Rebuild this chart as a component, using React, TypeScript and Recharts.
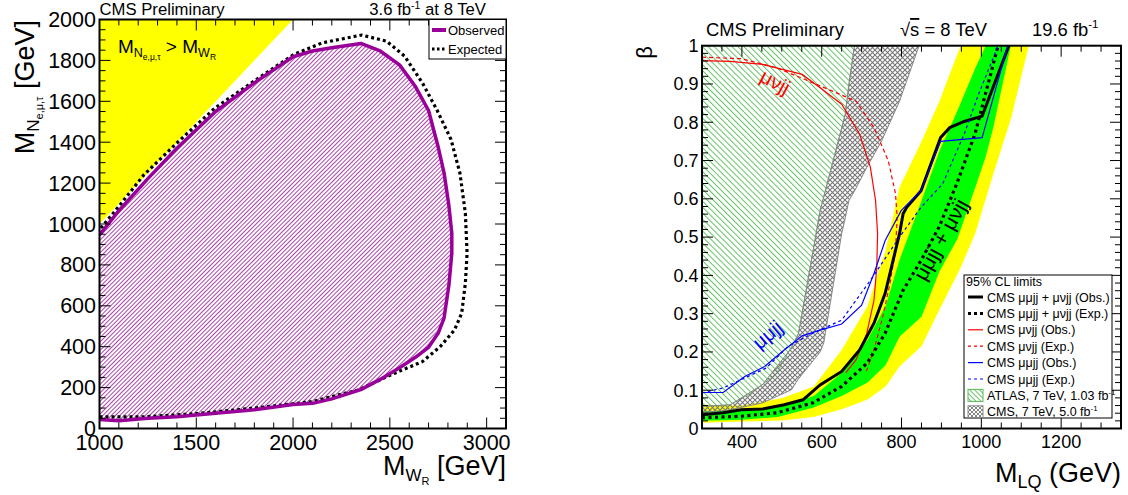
import React from "react";
import { ComposedChart, Area, Line, XAxis, YAxis } from "recharts";

const FONT = "'Liberation Sans', Arial, Helvetica, sans-serif";

// ---------- left panel: M_WR vs M_N exclusion ----------
const L_X_MAJOR = [1000, 1500, 2000, 2500, 3000];
const L_Y_MAJOR = [0, 200, 400, 600, 800, 1000, 1200, 1400, 1600, 1800, 2000];

// M_N > M_WR forbidden triangle
const TRI_X = [1000, 2000];
const TRI_LO = [1000, 2000];
const TRI_HI = [2000, 2000];

// observed excluded region (lower / upper edge at the same M_WR)
const OBS_X = [1000, 1100, 1250, 1400, 1600, 1800, 2000, 2100, 2200, 2350, 2450, 2550, 2630, 2700, 2750, 2780, 2805, 2820];
const OBS_HI = [947, 1065, 1222, 1370, 1550, 1690, 1818, 1846, 1862, 1883, 1846, 1778, 1675, 1555, 1375, 1250, 1090, 955];
const OBS_LO = [44, 38, 50, 58, 75, 92, 117, 123, 145, 190, 240, 297, 347, 397, 467, 540, 700, 857];

// expected contour (closed)
const EXP_X = [1000, 1229, 1506, 1782, 2096, 2336, 2521, 2668, 2760, 2834, 2871, 2890, 2899, 2890, 2862, 2816, 2742, 2668, 2576, 2483, 2354, 2151, 2004, 1819, 1598, 1413, 1229, 1100, 1000];
const EXP_Y = [57, 57, 73, 98, 131, 188, 269, 327, 400, 482, 563, 710, 857, 1053, 1249, 1413, 1560, 1690, 1821, 1894, 1924, 1886, 1829, 1712, 1568, 1408, 1240, 1086, 972];

// ---------- right panel: beta vs M_LQ ----------
const R_X_MAJOR = [400, 600, 800, 1000, 1200];
const R_Y_MAJOR = [0, 0.1, 0.2, 0.3, 0.4, 0.5, 0.6, 0.7, 0.8, 0.9, 1];

const YEL_X = [300, 400, 500, 580, 650, 715, 760, 795, 850, 895, 948, 985, 1030, 1075, 1119];
const YEL_LO = [0.015, 0.018, 0.021, 0.03, 0.05, 0.076, 0.11, 0.162, 0.215, 0.31, 0.42, 0.51, 0.665, 0.812, 1.0];
const YEL_HI = [0.062, 0.06, 0.079, 0.11, 0.205, 0.32, 0.465, 0.63, 0.75, 0.855, 1, 1, 1, 1, 1];

const GRN_X = [300, 400, 490, 580, 650, 715, 760, 795, 850, 895, 940, 985, 1011, 1030, 1074];
const GRN_LO = [0.02, 0.023, 0.03, 0.055, 0.085, 0.12, 0.165, 0.24, 0.292, 0.41, 0.495, 0.63, 0.71, 0.786, 1.0];
const GRN_HI = [0.045, 0.048, 0.056, 0.085, 0.145, 0.232, 0.32, 0.44, 0.595, 0.725, 0.83, 0.942, 1, 1, 1];

const ATLAS_X = [300, 371, 425, 488, 542, 596, 659, 682];
const ATLAS_LO = [0.058, 0.062, 0.093, 0.145, 0.249, 0.569, 0.821, 1.0];
const ATLAS_HI = [1, 1, 1, 1, 1, 1, 1, 1];

const CMS7_X = [300, 371, 452, 524, 542, 596, 605, 650, 659, 668, 682, 713, 750, 795, 844];
const CMS7_LO = [0.041, 0.049, 0.067, 0.101, 0.13, 0.2, 0.223, 0.509, 0.55, 0.595, 0.62, 0.682, 0.751, 0.855, 1.0];
const CMS7_HI = [0.058, 0.062, 0.115, 0.21, 0.249, 0.569, 0.605, 0.785, 0.821, 0.9, 1, 1, 1, 1, 1];

const COMB_OBS_X = [300, 353, 398, 452, 506, 553, 596, 650, 695, 731, 759, 795, 804, 813, 849, 898, 921, 957, 1002, 1069];
const COMB_OBS_B = [0.036, 0.041, 0.049, 0.051, 0.062, 0.075, 0.114, 0.149, 0.205, 0.275, 0.353, 0.509, 0.561, 0.578, 0.621, 0.76, 0.786, 0.802, 0.816, 1.0];
const COMB_EXP_X = [300, 398, 488, 578, 650, 714, 759, 804, 849, 894, 939, 984, 1042];
const COMB_EXP_B = [0.028, 0.032, 0.041, 0.067, 0.11, 0.171, 0.249, 0.361, 0.439, 0.526, 0.641, 0.769, 1.0];

const MUNU_OBS_X = [300, 300, 371, 452, 551, 596, 650, 695, 722, 735, 740, 738, 731, 713, 686, 660];
const MUNU_OBS_B = [1.0, 0.961, 0.959, 0.951, 0.925, 0.89, 0.847, 0.769, 0.682, 0.595, 0.509, 0.422, 0.335, 0.249, 0.179, 0.145];
const MUNU_EXP_X = [300, 398, 488, 578, 686, 731, 767, 785, 789, 785, 771, 753, 731, 712];
const MUNU_EXP_B = [0.97, 0.966, 0.942, 0.903, 0.855, 0.786, 0.699, 0.613, 0.552, 0.465, 0.379, 0.292, 0.205, 0.15];

const MUMU_OBS_X = [300, 300, 353, 407, 457, 506, 551, 596, 650, 700, 731, 759, 799, 849, 898, 1002, 1066];
const MUMU_OBS_B = [0, 0.094, 0.094, 0.136, 0.162, 0.205, 0.242, 0.257, 0.273, 0.322, 0.405, 0.491, 0.569, 0.621, 0.75, 0.76, 1.0];
const MUMU_EXP_X = [300, 353, 407, 461, 515, 578, 650, 722, 795, 849, 903, 957, 993, 1042];
const MUMU_EXP_B = [0.093, 0.106, 0.132, 0.158, 0.214, 0.249, 0.283, 0.387, 0.5, 0.578, 0.639, 0.769, 0.873, 1.0];

const pts = (xs: number[], ys: number[]) => xs.map((x, i) => ({ x, y: ys[i] }));
const band = (xs: number[], lo: number[], hi: number[]) => xs.map((x, i) => ({ x, r: [lo[i], hi[i]] }));
// outline of a band: upper edge left->right, then lower edge back
const loop = (xs: number[], lo: number[], hi: number[]) => [...pts(xs, hi), ...pts(xs, lo).reverse()];
const steps = (a: number, b: number, s: number) => {
  const out: number[] = [];
  for (let i = 0; a + i * s <= b + 1e-9; i++) out.push(+(a + i * s).toFixed(4));
  return out;
};
const isMajor = (majors: number[], v: number) => majors.some((m) => Math.abs(m - v) < 1e-6);

// frame geometry (chart-local pixels)
const LF = { left: 99.5, right: 506, top: 19.5, bottom: 428.5 };
const RF = { left: 142, right: 561, top: 45.7, bottom: 428.5 };

function XTick({ x, payload, f, majors, font, dy, fmt }: any) {
  const v = payload.value;
  const big = isMajor(majors, v);
  const len = big ? 11 : 6;
  return (
    <g>
      <line x1={x} x2={x} y1={f.bottom} y2={f.bottom - len} stroke="#000" />
      <line x1={x} x2={x} y1={f.top} y2={f.top + len} stroke="#000" />
      {big && (
        <text x={x} y={f.bottom + dy} textAnchor="middle" fontSize={font} fontFamily={FONT} fill="#000">
          {fmt(v)}
        </text>
      )}
    </g>
  );
}

function YTick({ y, payload, f, majors, font, fmt }: any) {
  const v = payload.value;
  const big = isMajor(majors, v);
  const len = big ? 11 : 6;
  return (
    <g>
      <line x1={f.left} x2={f.left + len} y1={y} y2={y} stroke="#000" />
      <line x1={f.right} x2={f.right - len} y1={y} y2={y} stroke="#000" />
      {big && (
        <text x={f.left - 3.5} y={y + font * 0.35} textAnchor="end" fontSize={font} fontFamily={FONT} fill="#000">
          {fmt(v)}
        </text>
      )}
    </g>
  );
}

function LeftChart() {
  return (
    <ComposedChart width={560} height={495} margin={{ top: LF.top, right: 560 - LF.right, bottom: 495 - LF.bottom - 40, left: LF.left - 60 }}>
      <defs>
        <pattern id="hatchPurple" width="3" height="10" patternUnits="userSpaceOnUse" patternTransform="rotate(45)">
          <rect width="3" height="10" fill="#fff" />
          <line x1="0.5" y1="0" x2="0.5" y2="10" stroke="#a030a0" strokeWidth="0.9" />
        </pattern>
      </defs>
      <XAxis
        type="number"
        dataKey="x"
        domain={[1000, 3100]}
        ticks={steps(1000, 3100, 100)}
        interval={0}
        allowDataOverflow
        height={40}
        axisLine={false}
        tickLine={false}
        tick={(p: any) => <XTick {...p} f={LF} majors={L_X_MAJOR} font={21.5} dy={21} fmt={(v: number) => String(v)} />}
      />
      <YAxis
        type="number"
        domain={[0, 2000]}
        ticks={steps(0, 2000, 50)}
        interval={0}
        allowDataOverflow
        width={60}
        axisLine={false}
        tickLine={false}
        tick={(p: any) => <YTick {...p} f={LF} majors={L_Y_MAJOR} font={21.5} fmt={(v: number) => String(v)} />}
      />
      <Area data={band(TRI_X, TRI_LO, TRI_HI)} dataKey="r" type="linear" fill="#ffff00" fillOpacity={1} stroke="none" isAnimationActive={false} />
      <Area data={band(OBS_X, OBS_LO, OBS_HI)} dataKey="r" type="linear" fill="url(#hatchPurple)" fillOpacity={1} stroke="none" isAnimationActive={false} />
      <Line data={pts(EXP_X, EXP_Y)} dataKey="y" type="linear" stroke="#000" strokeWidth={3.2} strokeDasharray="3 3" dot={false} isAnimationActive={false} />
      <Line data={loop(OBS_X, OBS_LO, OBS_HI)} dataKey="y" type="linear" stroke="#990099" strokeWidth={3.5} strokeLinejoin="round" dot={false} isAnimationActive={false} />
    </ComposedChart>
  );
}

function RightChart() {
  const fmt = (v: number) => (v === 0 ? "0" : v === 1 ? "1" : v.toFixed(1));
  return (
    <ComposedChart width={568} height={495} margin={{ top: RF.top, right: 568 - RF.right, bottom: 495 - RF.bottom - 40, left: RF.left - 60 }}>
      <defs>
        <pattern id="hatchAtlas" width="4.2" height="10" patternUnits="userSpaceOnUse" patternTransform="rotate(-45)">
          <line x1="0.5" y1="0" x2="0.5" y2="10" stroke="#55bb55" strokeWidth="0.9" />
        </pattern>
        <pattern id="crossCms" width="5" height="5" patternUnits="userSpaceOnUse">
          <path d="M0,0 L5,5 M5,0 L0,5" stroke="#777" strokeWidth="1.1" />
        </pattern>
      </defs>
      <XAxis
        type="number"
        dataKey="x"
        domain={[300, 1350]}
        ticks={steps(300, 1350, 50)}
        interval={0}
        allowDataOverflow
        height={40}
        axisLine={false}
        tickLine={false}
        tick={(p: any) => <XTick {...p} f={RF} majors={R_X_MAJOR} font={18} dy={19.5} fmt={(v: number) => String(v)} />}
      />
      <YAxis
        type="number"
        domain={[0, 1]}
        ticks={steps(0, 1, 0.02)}
        interval={0}
        allowDataOverflow
        width={60}
        axisLine={false}
        tickLine={false}
        tick={(p: any) => <YTick {...p} f={RF} majors={R_Y_MAJOR} font={18} fmt={fmt} />}
      />
      <Area data={band(YEL_X, YEL_LO, YEL_HI)} dataKey="r" type="linear" fill="#ffff00" fillOpacity={1} stroke="none" isAnimationActive={false} />
      <Area data={band(GRN_X, GRN_LO, GRN_HI)} dataKey="r" type="linear" fill="#00ff00" fillOpacity={1} stroke="none" isAnimationActive={false} />
      <Area data={band(ATLAS_X, ATLAS_LO, ATLAS_HI)} dataKey="r" type="linear" fill="url(#hatchAtlas)" fillOpacity={1} stroke="#66c266" strokeWidth={0.8} isAnimationActive={false} />
      <Area data={band(CMS7_X, CMS7_LO, CMS7_HI)} dataKey="r" type="linear" fill="url(#crossCms)" fillOpacity={1} stroke="#888" strokeWidth={1} isAnimationActive={false} />
      <Line data={pts(MUNU_OBS_X, MUNU_OBS_B)} dataKey="y" type="linear" stroke="#ff0000" strokeWidth={1.2} dot={false} isAnimationActive={false} />
      <Line data={pts(MUNU_EXP_X, MUNU_EXP_B)} dataKey="y" type="linear" stroke="#ff0000" strokeWidth={1.2} strokeDasharray="4 3" dot={false} isAnimationActive={false} />
      <Line data={pts(COMB_EXP_X, COMB_EXP_B)} dataKey="y" type="linear" stroke="#000" strokeWidth={3.2} strokeDasharray="3 3.5" dot={false} isAnimationActive={false} />
      <Line data={pts(COMB_OBS_X, COMB_OBS_B)} dataKey="y" type="linear" stroke="#000" strokeWidth={3} dot={false} isAnimationActive={false} />
      <Line data={pts(MUMU_OBS_X, MUMU_OBS_B)} dataKey="y" type="linear" stroke="#0000ff" strokeWidth={1.2} dot={false} isAnimationActive={false} />
      <Line data={pts(MUMU_EXP_X, MUMU_EXP_B)} dataKey="y" type="linear" stroke="#0000ff" strokeWidth={1.2} strokeDasharray="3 3" dot={false} isAnimationActive={false} />
    </ComposedChart>
  );
}

const LEGEND_ROWS = [
  { label: "CMS μμjj + μνjj (Obs.)", color: "#000", w: 3, dash: undefined },
  { label: "CMS μμjj + μνjj (Exp.)", color: "#000", w: 3, dash: "3 3" },
  { label: "CMS μνjj (Obs.)", color: "#ff0000", w: 1.2, dash: undefined },
  { label: "CMS μνjj (Exp.)", color: "#ff0000", w: 1.2, dash: "3 3" },
  { label: "CMS μμjj (Obs.)", color: "#0000ff", w: 1.2, dash: undefined },
  { label: "CMS μμjj (Exp.)", color: "#0000ff", w: 1.2, dash: "3 3" },
];

function Overlay() {
  const t = { fontFamily: FONT, fill: "#000" };
  const rowY = (i: number) => 297 + i * 16.4;
  return (
    <svg width={1128} height={495} style={{ position: "absolute", left: 0, top: 0, pointerEvents: "none" }}>
      <defs>
        <pattern id="lgAtlas" width="3.5" height="10" patternUnits="userSpaceOnUse" patternTransform="rotate(-45)">
          <line x1="0.5" y1="0" x2="0.5" y2="10" stroke="#55bb55" strokeWidth="0.9" />
        </pattern>
        <pattern id="lgCms" width="4" height="4" patternUnits="userSpaceOnUse">
          <path d="M0,0 L4,4 M4,0 L0,4" stroke="#777" strokeWidth="0.9" />
        </pattern>
      </defs>

      {/* left panel */}
      <rect x={LF.left} y={LF.top} width={LF.right - LF.left} height={LF.bottom - LF.top} fill="none" stroke="#000" strokeWidth={2} />
      <text x={99.5} y={15} fontSize={16.7} {...t}>CMS Preliminary</text>
      <text x={486} y={15} fontSize={16.7} textAnchor="end" {...t}>
        3.6 fb<tspan fontSize={10.5} dy={-6}>-1</tspan>
        <tspan dy={6}> at 8 TeV</tspan>
      </text>
      <text x={118} y={53} fontSize={19} {...t}>
        M<tspan fontSize={12.5} dy={4}>N</tspan>
        <tspan fontSize={8.5} dy={3}>e,μ,τ</tspan>
        <tspan fontSize={19} dy={-7}> &gt; M</tspan>
        <tspan fontSize={12.5} dy={4}>W</tspan>
        <tspan fontSize={8.5} dy={3}>R</tspan>
      </text>
      <rect x={429} y={LF.top} width={LF.right - 429} height={39.5} fill="#fff" stroke="#000" strokeWidth={1} />
      <line x1={432} x2={446} y1={30} y2={30} stroke="#990099" strokeWidth={4} />
      <text x={448} y={34.5} fontSize={13} {...t}>Observed</text>
      <line x1={432} x2={446} y1={49} y2={49} stroke="#000" strokeWidth={3} strokeDasharray="2.5 2.5" />
      <text x={448} y={53.5} fontSize={13} {...t}>Expected</text>
      <text x={LF.right} y={475} fontSize={27} textAnchor="end" {...t}>
        M<tspan fontSize={17} dy={6}>W</tspan>
        <tspan fontSize={11} dy={4}>R</tspan>
        <tspan fontSize={27} dy={-10}> [GeV]</tspan>
      </text>
      <text transform="translate(34,20) rotate(-90)" fontSize={27} textAnchor="end" {...t}>
        M<tspan fontSize={17} dy={5}>N</tspan>
        <tspan fontSize={11} dy={4}>e,μ,τ</tspan>
        <tspan fontSize={27} dy={-9}> [GeV]</tspan>
      </text>

      {/* right panel */}
      <rect x={560 + RF.left} y={RF.top} width={RF.right - RF.left} height={RF.bottom - RF.top} fill="none" stroke="#000" strokeWidth={2} />
      <text x={706} y={36} fontSize={18.4} {...t}>CMS Preliminary</text>
      <text x={900} y={36} fontSize={18.4} {...t}>
        √<tspan textDecoration="overline">s</tspan> = 8 TeV
      </text>
      <text x={1032} y={36} fontSize={18.4} {...t}>
        19.6 fb<tspan fontSize={11.5} dy={-8}>-1</tspan>
      </text>
      <text x={1121} y={482} fontSize={27} textAnchor="end" {...t}>
        M<tspan fontSize={18} dy={6}>LQ</tspan>
        <tspan fontSize={27} dy={-6}> (GeV)</tspan>
      </text>
      <text transform="translate(652,46) rotate(-90)" fontSize={22} textAnchor="end" {...t}>β</text>

      <text transform="translate(772,88) rotate(28)" fontSize={20} textAnchor="middle" fontFamily={FONT} fill="#ff0000">μνjj</text>
      <text transform="translate(772,340) rotate(-40)" fontSize={20} textAnchor="middle" fontFamily={FONT} fill="#0000ff">μμjj</text>
      <text transform="translate(947,243) rotate(-61)" fontSize={21} textAnchor="middle" {...t}>μμjj + μνjj</text>

      <rect x={964} y={275} width={148} height={143} fill="#fff" stroke="#000" strokeWidth={1} />
      <text x={966} y={286} fontSize={12.5} {...t}>95% CL limits</text>
      {LEGEND_ROWS.map((r, i) => (
        <g key={r.label}>
          <line x1={968} x2={983} y1={rowY(i)} y2={rowY(i)} stroke={r.color} strokeWidth={r.w} strokeDasharray={r.dash} />
          <text x={987} y={rowY(i) + 4.5} fontSize={12.5} {...t}>{r.label}</text>
        </g>
      ))}
      <rect x={968} y={rowY(6) - 6} width={15} height={12} fill="url(#lgAtlas)" stroke="#55bb55" />
      <text x={987} y={rowY(6) + 4.5} fontSize={12.5} {...t}>
        ATLAS, 7 TeV, 1.03 fb<tspan fontSize={8} dy={-5}>-1</tspan>
      </text>
      <rect x={968} y={rowY(7) - 6} width={15} height={12} fill="url(#lgCms)" stroke="#888" />
      <text x={987} y={rowY(7) + 4.5} fontSize={12.5} {...t}>
        CMS, 7 TeV, 5.0 fb<tspan fontSize={8} dy={-5}>-1</tspan>
      </text>
    </svg>
  );
}

export default function App() {
  return (
    <div style={{ position: "absolute", left: 0, top: 0, width: 1128, height: 495, background: "#fff", overflow: "hidden" }}>
      <div style={{ position: "absolute", left: 0, top: 0 }}>
        <LeftChart />
      </div>
      <div style={{ position: "absolute", left: 560, top: 0 }}>
        <RightChart />
      </div>
      <Overlay />
    </div>
  );
}
